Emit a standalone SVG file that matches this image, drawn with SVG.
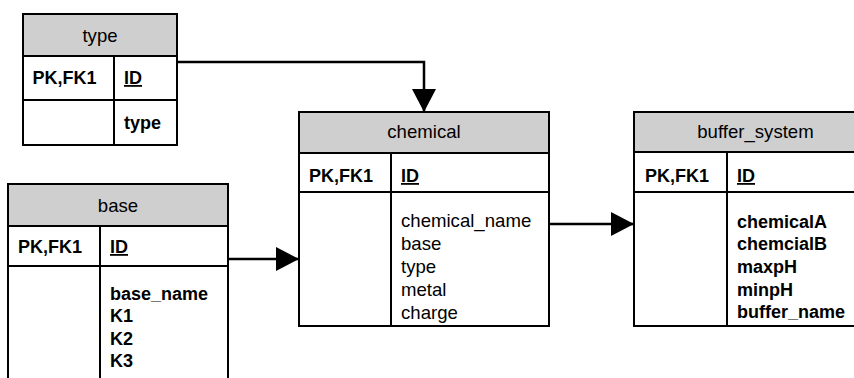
<svg xmlns="http://www.w3.org/2000/svg" width="854" height="378" viewBox="0 0 854 378">
<defs>
<marker id="arr" markerUnits="userSpaceOnUse" markerWidth="24" markerHeight="26" refX="23" refY="12" orient="auto">
<path d="M0,0 L23,12 L0,24 z" fill="#000"/>
</marker>
<style>
.box{fill:#fff;stroke:#000;stroke-width:2}
.hdr{fill:#cfcfcf;stroke:#000;stroke-width:2}
.ln{stroke:#000;stroke-width:2;fill:none}
.con{stroke:#000;stroke-width:2.5;fill:none;marker-end:url(#arr)}
text{font-family:"Liberation Sans",Arial,sans-serif;font-size:18.6px;fill:#000}
.t{text-anchor:middle}
.b{font-weight:bold;font-size:18px}
.u{font-weight:bold;font-size:18px;text-decoration:underline}
</style>
</defs>
<g id="connectors">
<polyline class="con" points="177,62 424,62 424,112"/>
<line class="con" x1="228" y1="259" x2="299" y2="259"/>
<line class="con" x1="549" y1="224" x2="634" y2="224"/>
</g>
<g id="type">
<rect class="box" x="23" y="14" width="154" height="131"/>
<rect class="hdr" x="23" y="14" width="154" height="42"/>
<line class="ln" x1="23" y1="100" x2="177" y2="100"/>
<line class="ln" x1="114" y1="56" x2="114" y2="145"/>
<text class="t" x="100" y="41.5">type</text>
<text class="b" x="32.5" y="84">PK,FK1</text>
<text class="u" x="124" y="84">ID</text>
<text class="b" x="124" y="129">type</text>
</g>
<g id="base">
<rect class="box" x="8" y="184" width="220" height="210"/>
<rect class="hdr" x="8" y="184" width="220" height="42"/>
<line class="ln" x1="8" y1="266" x2="228" y2="266"/>
<line class="ln" x1="100" y1="226" x2="100" y2="394"/>
<text class="t" x="118" y="211.5">base</text>
<text class="b" x="18" y="253">PK,FK1</text>
<text class="u" x="110" y="253">ID</text>
<text class="b" x="110" y="299.5">base_name</text>
<text class="b" x="110" y="322">K1</text>
<text class="b" x="110" y="345">K2</text>
<text class="b" x="110" y="367">K3</text>
</g>
<g id="chemical">
<rect class="box" x="299" y="112" width="250" height="214"/>
<rect class="hdr" x="299" y="112" width="250" height="41"/>
<line class="ln" x1="299" y1="192" x2="549" y2="192"/>
<line class="ln" x1="391" y1="153" x2="391" y2="326"/>
<text class="t" x="424" y="138">chemical</text>
<text class="b" x="309" y="182">PK,FK1</text>
<text class="u" x="401" y="182">ID</text>
<text x="401" y="226.5">chemical_name</text>
<text x="401" y="249.5">base</text>
<text x="401" y="272.5">type</text>
<text x="401" y="295.5">metal</text>
<text x="401" y="318.5">charge</text>
</g>
<g id="buffer_system">
<rect class="box" x="634" y="112" width="243" height="214"/>
<rect class="hdr" x="634" y="112" width="243" height="40"/>
<line class="ln" x1="634" y1="192" x2="877" y2="192"/>
<line class="ln" x1="727" y1="152" x2="727" y2="326"/>
<text class="t" x="755.5" y="138">buffer_system</text>
<text class="b" x="645" y="182">PK,FK1</text>
<text class="u" x="737" y="182">ID</text>
<text class="b" x="737" y="227.5">chemicalA</text>
<text class="b" x="737" y="250">chemcialB</text>
<text class="b" x="737" y="273">maxpH</text>
<text class="b" x="737" y="296">minpH</text>
<text class="b" x="737" y="318">buffer_name</text>
</g>
</svg>
